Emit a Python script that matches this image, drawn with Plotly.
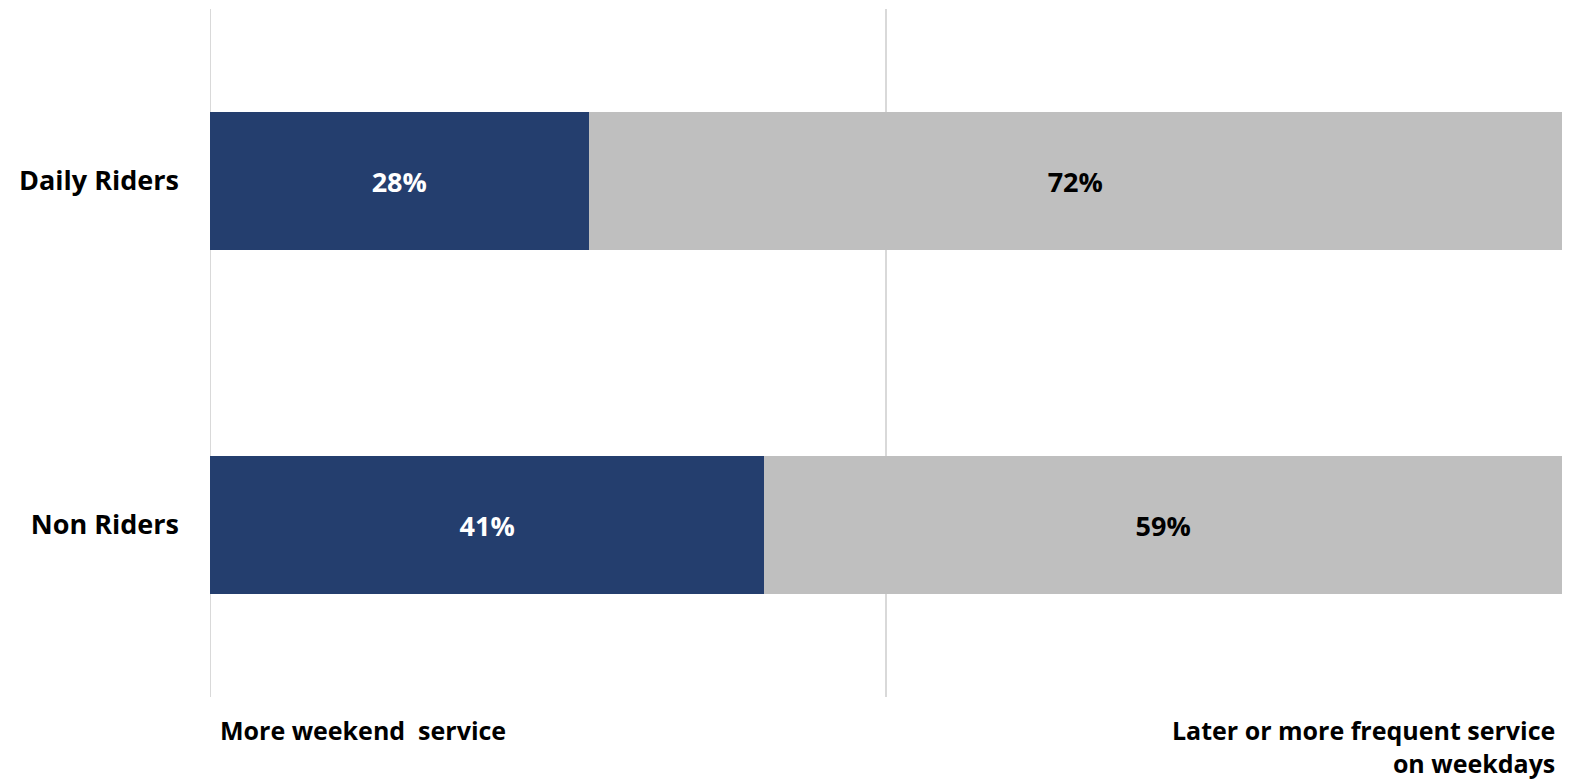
import plotly.graph_objects as go

# Survey groups (top to bottom) and shares for each preference
groups = ["Daily Riders", "Non Riders"]
weekend_share = [28, 41]
weekday_share = [72, 59]

series_names = ["More weekend  service", "Later or more frequent service<br>on weekdays"]
navy = "#243e6e"
grey = "#bfbfbf"
font_family = "'Open Sans', Lato, 'DejaVu Sans', sans-serif"

fig = go.Figure()
fig.add_trace(go.Bar(
    y=groups, x=weekend_share, orientation="h", name=series_names[0],
    marker=dict(color=navy, line=dict(width=0)),
    text=[f"{v}%" for v in weekend_share], textposition="inside",
    insidetextanchor="middle",
    textfont=dict(color="white", size=27, family=font_family, weight="bold"),
    width=0.40,
))
fig.add_trace(go.Bar(
    y=groups, x=weekday_share, orientation="h", name=series_names[1],
    marker=dict(color=grey, line=dict(width=0)),
    text=[f"{v}%" for v in weekday_share], textposition="inside",
    insidetextanchor="middle",
    textfont=dict(color="black", size=27, family=font_family, weight="bold"),
    width=0.40,
))

fig.update_layout(
    barmode="stack",
    width=1574, height=782,
    margin=dict(l=210, r=12, t=9, b=85),
    paper_bgcolor="white", plot_bgcolor="white",
    showlegend=False,
    xaxis=dict(range=[0, 100], dtick=50, showticklabels=False, showgrid=True,
               gridcolor="#d9d9d9", gridwidth=2, zeroline=False, showline=False),
    yaxis=dict(showgrid=False, zeroline=False,
               ticks="", ticklabelstandoff=30,
               tickfont=dict(size=27, color="black", family=font_family, weight="bold"),
               range=[1.5, -0.5]),
    uniformtext=dict(mode="show", minsize=10),
)
# Left boundary line at 0%
fig.add_shape(type="line", xref="x", yref="paper", x0=0, x1=0, y0=0, y1=1,
              line=dict(color="#d9d9d9", width=2), layer="below")

fig.add_annotation(text=series_names[0], xref="paper", yref="paper", x=0.0, y=-0.02,
                   xanchor="left", yanchor="top", xshift=8, showarrow=False,
                   font=dict(size=25, color="black", family=font_family, weight="bold"))
fig.add_annotation(text=series_names[1], xref="paper", yref="paper", x=1.0, y=-0.02,
                   xanchor="right", yanchor="top", xshift=-5, showarrow=False, align="right",
                   font=dict(size=25, color="black", family=font_family, weight="bold"))

fig.write_html("out.html")
